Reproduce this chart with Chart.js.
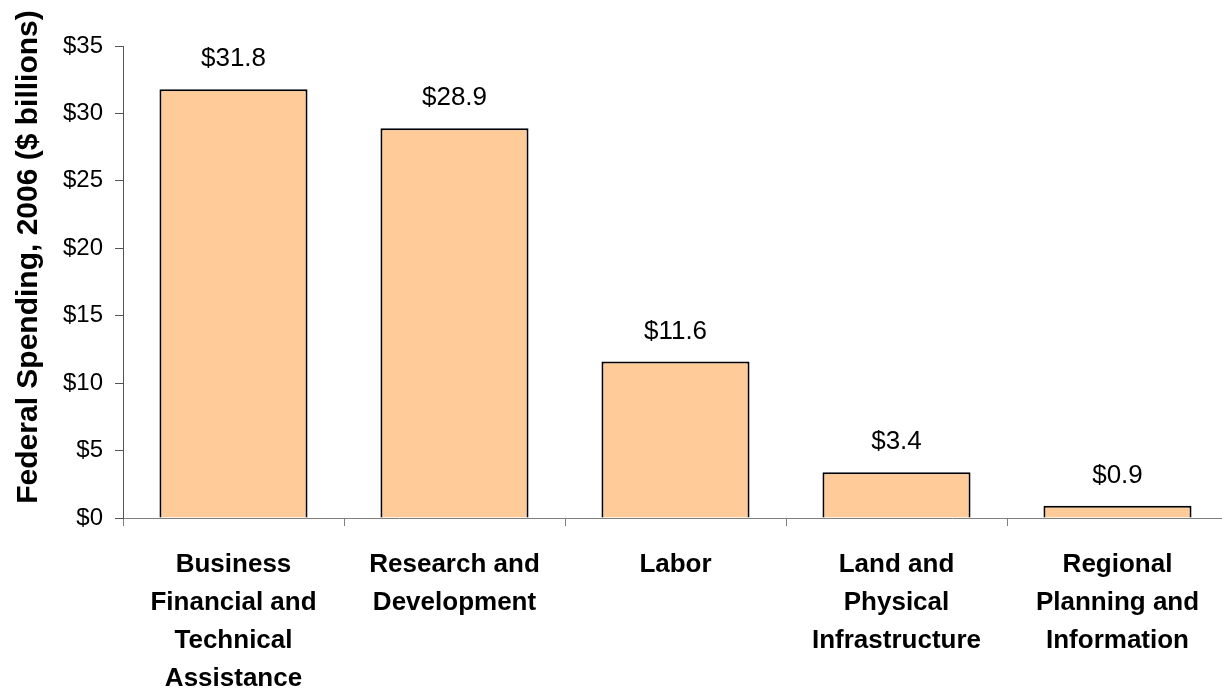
<!DOCTYPE html>
<html>
<head>
<meta charset="utf-8">
<script src="https://cdn.jsdelivr.net/npm/chart.js@4.4.1/dist/chart.umd.min.js"></script>
<style>
  html, body { margin: 0; padding: 0; background: #fff; overflow: hidden; }
  #graphique { display: block; }
</style>
</head>
<body>
<canvas id="graphique" width="1228" height="690"></canvas>
<script>
// valeurs
var categories = [
    ["Business", "Financial and", "Technical", "Assistance"],
    ["Research and", "Development"],
    ["Labor"],
    ["Land and", "Physical", "Infrastructure"],
    ["Regional", "Planning and", "Information"]
];
var spending = [31.8, 28.9, 11.6, 3.4, 0.9];
var yMin = 0, yMax = 35, yStep = 5;
var titreY = "Federal Spending, 2006 ($ billions)";

var police = "'Liberation Sans', Arial, sans-serif";

// etiquettes au-dessus des barres
var etiquettes = {
    id: 'etiquettes',
    afterDatasetsDraw: function(chart) {
        var ctx = chart.ctx;
        var meta = chart.getDatasetMeta(0);
        ctx.save();
        ctx.font = "26px " + police;
        ctx.fillStyle = "#000";
        ctx.textAlign = "center";
        ctx.textBaseline = "middle";
        meta.data.forEach(function(bar, i) {
            ctx.fillText("$" + spending[i].toFixed(1), bar.x, bar.y - 30);
        });
        ctx.restore();
    }
};

// titre de l'axe y, dessine a la main pour le placer comme l'original
var titreAxe = {
    id: 'titreAxe',
    afterDraw: function(chart) {
        var ctx = chart.ctx;
        ctx.save();
        ctx.translate(29, 257);
        ctx.rotate(-Math.PI / 2);
        ctx.font = "bold 30px " + police;
        ctx.fillStyle = "#000";
        ctx.textAlign = "center";
        ctx.textBaseline = "middle";
        ctx.fillText(titreY, 0, 0);
        ctx.restore();
    }
};

var ctx = document.getElementById('graphique').getContext('2d');
var graphique = new Chart(ctx, {
    type: 'bar',
    data: {
        labels: categories,
        datasets: [{
            data: spending,
            backgroundColor: '#FFCC99',
            borderColor: '#000',
            borderWidth: 2,
            barPercentage: 0.67,
            categoryPercentage: 1
        }]
    },
    options: {
        responsive: false,
        devicePixelRatio: 1,
        animation: false,
        layout: { padding: { top: 46, right: 0, bottom: 0, left: 0 } },
        plugins: {
            legend: { display: false },
            tooltip: { enabled: false }
        },
        scales: {
            x: {
                grid: { offset: true, drawOnChartArea: false, drawTicks: true, tickLength: 8, color: '#808080' },
                border: { color: '#808080', width: 1 },
                ticks: {
                    color: '#000',
                    font: { family: police, size: 26, weight: 'bold', lineHeight: 38 / 26 },
                    padding: 20,
                    maxRotation: 0,
                    autoSkip: false
                },
                afterFit: function(scale) { scale.height = 172; }
            },
            y: {
                min: yMin,
                max: yMax,
                grid: { drawOnChartArea: false, drawTicks: true, tickLength: 8, color: '#555' },
                border: { color: '#555', width: 1 },
                ticks: {
                    stepSize: yStep,
                    color: '#000',
                    font: { family: police, size: 24 },
                    padding: 12,
                    callback: function(v) { return "$" + v; }
                },
                afterFit: function(scale) { scale.width = 123; }
            }
        }
    },
    plugins: [etiquettes, titreAxe]
});
</script>
</body>
</html>
